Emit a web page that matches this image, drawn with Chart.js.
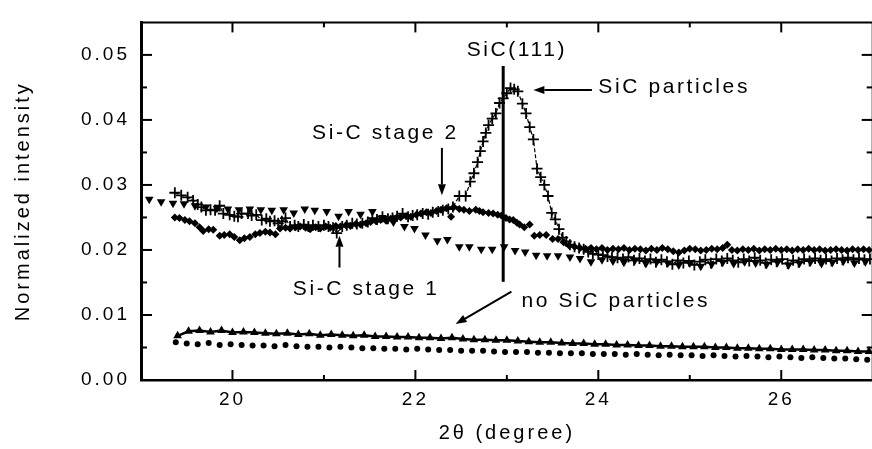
<!DOCTYPE html>
<html lang="en">
<head>
    <meta charset="UTF-8">
    <title>SiC(111) normalized intensity</title>
    <script src="https://cdn.jsdelivr.net/npm/chart.js"></script>
    <style>
        html, body { margin: 0; padding: 0; background: #fff; overflow: hidden; }
        #wrap { width: 880px; height: 449px; }
    </style>
</head>
<body>
    <div id="wrap"><canvas id="xrdChart"></canvas></div>

    <script>
        // 2theta (degree) and normalized intensity

        // + SiC particles
        const plusX = [19.37, 19.44, 19.51, 19.57, 19.62, 19.66, 19.71, 19.76, 19.81, 19.86, 19.90, 19.97, 20.02, 20.06, 20.10, 20.17, 20.21, 20.26, 20.32, 20.37,
            20.41, 20.46, 20.50, 20.54, 20.58, 20.63, 20.68, 20.72, 20.78, 20.83, 20.88, 20.94, 21.00, 21.05, 21.10, 21.14, 21.20, 21.25, 21.31, 21.36,
            21.42, 21.48, 21.53, 21.58, 21.64, 21.70, 21.75, 21.80, 21.86, 21.92, 21.97, 22.02, 22.08, 22.14, 22.19, 22.25, 22.30, 22.36, 22.41, 22.48,
            22.55, 22.60, 22.64, 22.68, 22.71, 22.74, 22.77, 22.80, 22.84, 22.88, 22.92, 22.96, 23.00, 23.04, 23.08, 23.12, 23.17, 23.21, 23.25, 23.29,
            23.33, 23.37, 23.41, 23.45, 23.49, 23.53, 23.57, 23.61, 23.65, 23.69, 23.74, 23.79, 23.84, 23.89, 23.94, 24.00, 24.05, 24.10, 24.15, 24.21,
            24.27, 24.33, 24.39, 24.45, 24.51, 24.57, 24.63, 24.69, 24.75, 24.81, 24.87, 24.93, 24.99, 25.05, 25.11, 25.17, 25.23, 25.29, 25.35, 25.41,
            25.47, 25.53, 25.59, 25.65, 25.71, 25.77, 25.83, 25.89, 25.95, 26.01, 26.07, 26.13, 26.19, 26.25, 26.31, 26.37, 26.43, 26.49, 26.55, 26.61,
            26.67, 26.73, 26.79, 26.85, 26.91, 26.97];
        const plusY = [0.0288, 0.0284, 0.0281, 0.0276, 0.0270, 0.0266, 0.0261, 0.0262, 0.0261, 0.0268, 0.0256, 0.0254, 0.0252, 0.0251, 0.0256, 0.0256, 0.0253, 0.0254, 0.0246, 0.0248,
            0.0244, 0.0245, 0.0241, 0.0244, 0.0249, 0.0236, 0.0238, 0.0236, 0.0239, 0.0236, 0.0238, 0.0236, 0.0238, 0.0236, 0.0234, 0.0226, 0.0236, 0.0238, 0.0241, 0.0240,
            0.0241, 0.0243, 0.0249, 0.0247, 0.0251, 0.0248, 0.0249, 0.0252, 0.0256, 0.0251, 0.0253, 0.0254, 0.0256, 0.0255, 0.0258, 0.0259, 0.0261, 0.0263, 0.0266, 0.0283,
            0.0283, 0.0305, 0.0318, 0.0335, 0.0352, 0.0367, 0.0380, 0.0392, 0.0402, 0.0410, 0.0426, 0.0433, 0.0441, 0.0449, 0.0447, 0.0444, 0.0425, 0.0410, 0.0389, 0.0370,
            0.0325, 0.0312, 0.0300, 0.0283, 0.0257, 0.0247, 0.0232, 0.0219, 0.0213, 0.0208, 0.0205, 0.0203, 0.0201, 0.0197, 0.0194, 0.0193, 0.0192, 0.0190, 0.0189, 0.0188,
            0.0186, 0.0189, 0.0184, 0.0187, 0.0183, 0.0186, 0.0181, 0.0185, 0.0182, 0.0178, 0.0184, 0.0180, 0.0183, 0.0177, 0.0182, 0.0185, 0.0180, 0.0186, 0.0183, 0.0187,
            0.0184, 0.0181, 0.0186, 0.0183, 0.0188, 0.0184, 0.0180, 0.0185, 0.0182, 0.0186, 0.0179, 0.0184, 0.0181, 0.0186, 0.0183, 0.0187, 0.0184, 0.0186, 0.0183, 0.0187,
            0.0185, 0.0188, 0.0185, 0.0187, 0.0185, 0.0186];

        // down triangles
        const downX = [19.09, 19.22, 19.35, 19.47, 19.59, 19.71, 19.83, 19.95, 20.07, 20.19, 20.31, 20.43, 20.56, 20.67, 20.79, 20.90, 21.03, 21.16, 21.27, 21.40,
            21.53, 21.64, 21.76, 21.88, 21.99, 22.11, 22.24, 22.35, 22.48, 22.59, 22.72, 22.84, 22.97, 23.09, 23.20, 23.32, 23.44, 23.56, 23.69, 23.80,
            23.92, 24.04, 24.16, 24.28, 24.40, 24.52, 24.64, 24.76, 24.88, 25.00, 25.12, 25.24, 25.36, 25.48, 25.60, 25.72, 25.84, 25.96, 26.08, 26.20,
            26.32, 26.44, 26.56, 26.68, 26.80, 26.92];
        const downY = [0.0278, 0.0274, 0.0272, 0.0271, 0.0268, 0.0266, 0.0264, 0.0263, 0.0262, 0.0263, 0.0262, 0.0261, 0.0262, 0.0257, 0.0263, 0.0261, 0.0259, 0.0252, 0.0259, 0.0255,
            0.0259, 0.0250, 0.0243, 0.0236, 0.0233, 0.0223, 0.0214, 0.0216, 0.0205, 0.0205, 0.0201, 0.0201, 0.0205, 0.0199, 0.0197, 0.0192, 0.0191, 0.0191, 0.0189, 0.0187,
            0.0182, 0.0185, 0.0183, 0.0181, 0.0184, 0.0179, 0.0182, 0.0180, 0.0177, 0.0180, 0.0175, 0.0178, 0.0181, 0.0179, 0.0182, 0.0180, 0.0178, 0.0181, 0.0177, 0.0180,
            0.0182, 0.0179, 0.0181, 0.0183, 0.0180, 0.0182];

        // diamonds (Si-C stages)
        const diaX = [19.37, 19.42, 19.48, 19.53, 19.59, 19.64, 19.68, 19.74, 19.79, 19.86, 19.91, 19.97, 20.02, 20.08, 20.13, 20.19, 20.25, 20.30, 20.36, 20.41,
            20.47, 20.52, 20.58, 20.63, 20.69, 20.74, 20.80, 20.85, 20.91, 20.96, 21.02, 21.07, 21.13, 21.18, 21.24, 21.29, 21.35, 21.40, 21.46, 21.51,
            21.57, 21.62, 21.68, 21.73, 21.79, 21.84, 21.90, 21.95, 22.01, 22.06, 22.12, 22.17, 22.23, 22.28, 22.34, 22.39, 22.42, 22.48, 22.53, 22.59,
            22.66, 22.70, 22.74, 22.80, 22.85, 22.90, 22.94, 22.99, 23.03, 23.07, 23.11, 23.14, 23.19, 23.25, 23.30, 23.36, 23.43, 23.50, 23.56, 23.62,
            23.68, 23.74, 23.80, 23.86, 23.92, 23.98, 24.04, 24.10, 24.16, 24.22, 24.28, 24.34, 24.40, 24.46, 24.52, 24.58, 24.64, 24.70, 24.76, 24.82,
            24.88, 24.94, 25.00, 25.06, 25.12, 25.18, 25.24, 25.30, 25.36, 25.41, 25.46, 25.52, 25.58, 25.64, 25.70, 25.76, 25.82, 25.88, 25.94, 26.00,
            26.06, 26.12, 26.18, 26.24, 26.30, 26.36, 26.42, 26.48, 26.54, 26.60, 26.66, 26.72, 26.78, 26.84, 26.90, 26.96];
        const diaY = [0.0250, 0.0249, 0.0246, 0.0244, 0.0241, 0.0235, 0.0229, 0.0232, 0.0231, 0.0222, 0.0223, 0.0224, 0.0220, 0.0215, 0.0218, 0.0220, 0.0224, 0.0226, 0.0228, 0.0227,
            0.0224, 0.0233, 0.0234, 0.0233, 0.0235, 0.0236, 0.0234, 0.0232, 0.0235, 0.0233, 0.0236, 0.0234, 0.0237, 0.0236, 0.0238, 0.0237, 0.0240, 0.0239, 0.0241, 0.0243,
            0.0244, 0.0246, 0.0245, 0.0248, 0.0249, 0.0250, 0.0252, 0.0251, 0.0254, 0.0256, 0.0258, 0.0257, 0.0260, 0.0262, 0.0264, 0.0251, 0.0266, 0.0263, 0.0262, 0.0260,
            0.0262, 0.0260, 0.0258, 0.0257, 0.0256, 0.0254, 0.0253, 0.0249, 0.0247, 0.0246, 0.0242, 0.0239, 0.0235, 0.0239, 0.0222, 0.0223, 0.0223, 0.0217, 0.0217, 0.0212,
            0.0207, 0.0205, 0.0203, 0.0202, 0.0203, 0.0201, 0.0203, 0.0200, 0.0202, 0.0201, 0.0203, 0.0200, 0.0202, 0.0201, 0.0199, 0.0202, 0.0200, 0.0203, 0.0201, 0.0198,
            0.0196, 0.0199, 0.0202, 0.0201, 0.0199, 0.0200, 0.0202, 0.0201, 0.0203, 0.0208, 0.0200, 0.0199, 0.0201, 0.0200, 0.0202, 0.0199, 0.0201, 0.0200, 0.0202, 0.0200,
            0.0201, 0.0199, 0.0201, 0.0200, 0.0202, 0.0200, 0.0201, 0.0199, 0.0200, 0.0201, 0.0200, 0.0199, 0.0201, 0.0200, 0.0201, 0.0200];

        // up triangles (no SiC particles)
        const upX = [19.40, 19.52, 19.64, 19.76, 19.88, 20.00, 20.12, 20.24, 20.36, 20.48, 20.60, 20.72, 20.84, 20.96, 21.08, 21.20, 21.32, 21.44, 21.56, 21.68,
            21.80, 21.92, 22.04, 22.16, 22.28, 22.40, 22.52, 22.64, 22.76, 22.88, 23.00, 23.12, 23.24, 23.36, 23.48, 23.60, 23.72, 23.84, 23.96, 24.08,
            24.20, 24.32, 24.44, 24.56, 24.68, 24.80, 24.92, 25.04, 25.16, 25.28, 25.40, 25.52, 25.64, 25.76, 25.88, 26.00, 26.12, 26.24, 26.36, 26.48,
            26.60, 26.72, 26.84, 26.96];
        const upY = [0.0068, 0.0075, 0.0076, 0.0074, 0.0076, 0.0073, 0.0074, 0.0073, 0.0072, 0.0071, 0.0072, 0.0070, 0.0071, 0.0069, 0.0070, 0.0069, 0.0068, 0.0069, 0.0067, 0.0067,
            0.0066, 0.0066, 0.0065, 0.0065, 0.0064, 0.0065, 0.0063, 0.0062, 0.0062, 0.0061, 0.0061, 0.0060, 0.0059, 0.0058, 0.0058, 0.0057, 0.0056, 0.0056, 0.0055, 0.0055,
            0.0054, 0.0054, 0.0053, 0.0053, 0.0052, 0.0052, 0.0051, 0.0051, 0.0051, 0.0050, 0.0050, 0.0049, 0.0049, 0.0048, 0.0048, 0.0047, 0.0047, 0.0047, 0.0046, 0.0046,
            0.0045, 0.0045, 0.0044, 0.0044];

        // dots (no SiC particles)
        const dotX = [19.38, 19.50, 19.62, 19.74, 19.86, 19.98, 20.10, 20.22, 20.34, 20.46, 20.58, 20.70, 20.82, 20.94, 21.06, 21.18, 21.30, 21.42, 21.54, 21.66,
            21.78, 21.90, 22.02, 22.14, 22.26, 22.38, 22.50, 22.62, 22.74, 22.86, 22.98, 23.10, 23.22, 23.34, 23.46, 23.58, 23.70, 23.82, 23.94, 24.06,
            24.18, 24.30, 24.42, 24.54, 24.66, 24.78, 24.90, 25.02, 25.14, 25.26, 25.38, 25.50, 25.62, 25.74, 25.86, 25.98, 26.10, 26.22, 26.34, 26.46,
            26.58, 26.70, 26.82, 26.94];
        const dotY = [0.0058, 0.0056, 0.0055, 0.0057, 0.0054, 0.0055, 0.0054, 0.0053, 0.0053, 0.0052, 0.0054, 0.0052, 0.0051, 0.0051, 0.0050, 0.0051, 0.0050, 0.0049, 0.0049, 0.0048,
            0.0048, 0.0047, 0.0048, 0.0047, 0.0046, 0.0046, 0.0045, 0.0045, 0.0045, 0.0044, 0.0043, 0.0043, 0.0043, 0.0042, 0.0042, 0.0041, 0.0041, 0.0041, 0.0040, 0.0040,
            0.0040, 0.0039, 0.0040, 0.0039, 0.0038, 0.0039, 0.0038, 0.0038, 0.0037, 0.0038, 0.0037, 0.0036, 0.0037, 0.0036, 0.0035, 0.0036, 0.0035, 0.0034, 0.0035, 0.0034,
            0.0033, 0.0033, 0.0032, 0.0031];

        const xTicks = [20, 22, 24, 26];
        const xMinor = [21, 23, 25];
        const yTicks = [0, 0.01, 0.02, 0.03, 0.04, 0.05];
        const yMinor = [0.005, 0.015, 0.025, 0.035, 0.045];

        const FONT = "'Liberation Sans', Arial, sans-serif";

        function pts(xs, ys) {
            return xs.map((x, i) => ({ x: x, y: ys[i] }));
        }

        // labels and arrows, in data units
        const notes = [
            { text: "SiC(111)", x: 23.11, y: 0.0508, align: "center" },
            { text: "SiC particles", x: 24.00, y: 0.0451, align: "left" },
            { text: "Si-C stage 2", x: 20.87, y: 0.0380, align: "left" },
            { text: "Si-C stage 1", x: 20.66, y: 0.0140, align: "left" },
            { text: "no SiC particles", x: 23.16, y: 0.0121, align: "left" }
        ];
        const arrows = [
            { from: [23.93, 0.0446], to: [23.29, 0.0446] },
            { from: [22.29, 0.0357], to: [22.29, 0.0284] },
            { from: [21.17, 0.0173], to: [21.17, 0.0222] },
            { from: [23.05, 0.0136], to: [22.44, 0.0086] }
        ];
        const peakLine = { x: 22.96, y1: 0.0151, y2: 0.0483 };

        const framePlugin = {
            id: "frame",
            beforeDraw(chart) {
                chart.ctx.letterSpacing = "3px";
            },
            afterDraw(chart) {
                const { ctx, chartArea: a, scales: { x, y } } = chart;
                ctx.save();
                ctx.strokeStyle = "#000";
                ctx.fillStyle = "#000";

                // top and right frame
                ctx.lineWidth = 2;
                ctx.beginPath();
                ctx.moveTo(a.left, a.top);
                ctx.lineTo(a.right, a.top);
                ctx.lineTo(a.right, a.bottom);
                ctx.stroke();

                // inward ticks on all four sides
                function seg(x1, y1, x2, y2) {
                    ctx.beginPath();
                    ctx.moveTo(x1, y1);
                    ctx.lineTo(x2, y2);
                    ctx.stroke();
                }
                ctx.lineWidth = 2;
                xTicks.forEach(v => {
                    const p = x.getPixelForValue(v);
                    seg(p, a.bottom, p, a.bottom - 10);
                    seg(p, a.top, p, a.top + 10);
                });
                xMinor.forEach(v => {
                    const p = x.getPixelForValue(v);
                    seg(p, a.bottom, p, a.bottom - 5);
                    seg(p, a.top, p, a.top + 5);
                });
                yTicks.forEach(v => {
                    const p = y.getPixelForValue(v);
                    seg(a.left, p, a.left + 11, p);
                    seg(a.right, p, a.right - 11, p);
                });
                yMinor.forEach(v => {
                    const p = y.getPixelForValue(v);
                    seg(a.left, p, a.left + 6, p);
                    seg(a.right, p, a.right - 6, p);
                });

                // SiC(111) position
                ctx.lineWidth = 3;
                const lx = x.getPixelForValue(peakLine.x);
                seg(lx, y.getPixelForValue(peakLine.y1), lx, y.getPixelForValue(peakLine.y2));

                // arrows
                ctx.lineWidth = 2;
                arrows.forEach(ar => {
                    const x1 = x.getPixelForValue(ar.from[0]), y1 = y.getPixelForValue(ar.from[1]);
                    const x2 = x.getPixelForValue(ar.to[0]), y2 = y.getPixelForValue(ar.to[1]);
                    const ang = Math.atan2(y2 - y1, x2 - x1);
                    const hl = 11, hw = 4;
                    const bx = x2 - hl * Math.cos(ang), by = y2 - hl * Math.sin(ang);
                    seg(x1, y1, bx, by);
                    ctx.beginPath();
                    ctx.moveTo(x2, y2);
                    ctx.lineTo(bx + hw * Math.sin(ang), by - hw * Math.cos(ang));
                    ctx.lineTo(bx - hw * Math.sin(ang), by + hw * Math.cos(ang));
                    ctx.closePath();
                    ctx.fill();
                });

                // text labels
                ctx.font = "21px " + FONT;
                ctx.letterSpacing = "2.6px";
                ctx.textBaseline = "middle";
                notes.forEach(n => {
                    ctx.textAlign = n.align;
                    ctx.fillText(n.text, x.getPixelForValue(n.x), y.getPixelForValue(n.y));
                });
                ctx.restore();
            }
        };

        const ctx = document.getElementById("xrdChart").getContext("2d");
        new Chart(ctx, {
            type: "scatter",
            data: {
                datasets: [
                    {
                        label: "SiC particles",
                        data: pts(plusX, plusY),
                        showLine: true,
                        borderColor: "#000",
                        borderWidth: 1.2,
                        borderDash: [4, 2],
                        pointStyle: "cross",
                        pointRadius: 5.5,
                        pointBorderWidth: 1.8,
                        pointBorderColor: "#000"
                    },
                    {
                        label: "down",
                        data: pts(downX, downY),
                        pointStyle: "triangle",
                        rotation: 180,
                        pointRadius: 5,
                        pointBorderWidth: 0,
                        backgroundColor: "#000"
                    },
                    {
                        label: "Si-C stages",
                        data: pts(diaX, diaY),
                        pointStyle: "rectRot",
                        pointRadius: 4,
                        pointBorderWidth: 0,
                        backgroundColor: "#000"
                    },
                    {
                        label: "no SiC (up)",
                        data: pts(upX, upY),
                        showLine: true,
                        borderColor: "#000",
                        borderWidth: 2.5,
                        pointStyle: "triangle",
                        pointRadius: 5,
                        pointBorderWidth: 0,
                        backgroundColor: "#000"
                    },
                    {
                        label: "no SiC (dots)",
                        data: pts(dotX, dotY),
                        pointStyle: "circle",
                        pointRadius: 3,
                        pointBorderWidth: 0,
                        backgroundColor: "#000"
                    }
                ]
            },
            options: {
                responsive: true,
                maintainAspectRatio: false,
                animation: false,
                events: [],
                layout: { padding: { left: 0, right: 5, top: 7, bottom: 0 } },
                plugins: {
                    legend: { display: false },
                    tooltip: { enabled: false }
                },
                scales: {
                    x: {
                        type: "linear",
                        min: 19,
                        max: 27,
                        grid: { display: false, drawTicks: false },
                        border: { display: true, color: "#000", width: 2.5 },
                        afterBuildTicks: s => { s.ticks = xTicks.map(v => ({ value: v })); },
                        afterFit: s => { s.height = 69; },
                        ticks: {
                            color: "#000",
                            padding: 8,
                            maxRotation: 0,
                            font: { family: FONT, size: 19 },
                            callback: v => String(v)
                        },
                        title: {
                            display: true,
                            text: "2θ (degree)",
                            color: "#000",
                            font: { family: FONT, size: 20 },
                            padding: { top: 0, bottom: 4 }
                        }
                    },
                    y: {
                        type: "linear",
                        min: 0,
                        max: 0.055,
                        grid: { display: false, drawTicks: false },
                        border: { display: true, color: "#000", width: 3 },
                        afterBuildTicks: s => { s.ticks = yTicks.map(v => ({ value: v })); },
                        afterFit: s => { s.width = 141; },
                        ticks: {
                            color: "#000",
                            padding: 11,
                            font: { family: FONT, size: 19 },
                            callback: v => Number(v).toFixed(2)
                        },
                        title: {
                            display: true,
                            text: "Normalized intensity",
                            color: "#000",
                            font: { family: FONT, size: 20 },
                            padding: { top: 11, bottom: 0 }
                        }
                    }
                }
            },
            plugins: [framePlugin]
        });
    </script>
</body>
</html>
